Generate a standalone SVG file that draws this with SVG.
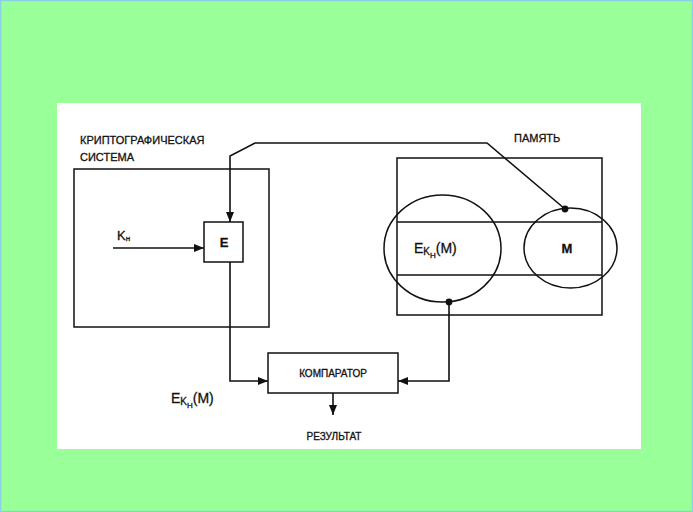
<svg xmlns="http://www.w3.org/2000/svg" width="693" height="512" viewBox="0 0 693 512">
<defs>
<style>
.box{fill:none;stroke:#111;stroke-width:1.5}
.ln{fill:none;stroke:#111;stroke-width:1.6}
.t{font-family:"Liberation Sans",Arial,sans-serif;fill:#111;stroke:#111;stroke-width:0.3}
</style>
<marker id="ah" viewBox="0 0 10 8" refX="10" refY="4" markerWidth="10" markerHeight="8" markerUnits="userSpaceOnUse" orient="auto">
<path d="M0,0 L10,4 L0,8 Z" fill="#111"/>
</marker>
</defs>
<rect x="0.5" y="0.5" width="692" height="511" fill="#99ff99" stroke="#8ccfe6" stroke-width="1.5"/>
<rect x="57" y="103" width="584" height="346" fill="#ffffff"/>

<g id="crypto-system">
<rect class="box" x="74" y="169" width="195" height="158"/>
<text class="t" x="80" y="144" font-size="11">КРИПТОГРАФИЧЕСКАЯ</text>
<text class="t" x="80" y="161" font-size="11">СИСТЕМА</text>
</g>
<g id="key-label">
<text class="t" x="117" y="240" font-size="13">K<tspan font-size="8" dy="1">н</tspan></text>
</g>
<g id="E">
<rect class="box" x="204" y="222" width="39" height="40"/>
<text class="t" x="224" y="247" font-size="13" font-weight="bold" text-anchor="middle">E</text>
</g>
<g id="memory">
<rect class="box" x="397" y="158" width="205" height="157"/>
<line class="box" x1="397" y1="222" x2="602" y2="222"/>
<line class="box" x1="397" y1="275" x2="602" y2="275"/>
<ellipse class="box" cx="442.5" cy="248.5" rx="58.5" ry="53.5"/>
<ellipse class="box" cx="570.5" cy="248" rx="46.5" ry="40"/>
<text class="t" x="514" y="142" font-size="11">ПАМЯТЬ</text>
<text class="t" x="414" y="253" font-size="14">E<tspan font-size="10" dy="2">K</tspan><tspan font-size="8" dy="3">H</tspan><tspan dy="-5">(M)</tspan></text>
<text class="t" x="567" y="253" font-size="13" font-weight="bold" text-anchor="middle">M</text>
</g>
<g id="comparator">
<rect class="box" x="268" y="353" width="130" height="40"/>
<text class="t" x="333" y="377" font-size="10" text-anchor="middle">КОМПАРАТОР</text>
</g>
<g id="result">
<text class="t" x="334" y="440" font-size="10" text-anchor="middle">РЕЗУЛЬТАТ</text>
</g>
<g id="ek-label">
<text class="t" x="171" y="403" font-size="14">E<tspan font-size="10" dy="2">K</tspan><tspan font-size="8" dy="3">H</tspan><tspan dy="-5">(M)</tspan></text>
</g>
<g id="connectors">
<line class="ln" x1="113" y1="248" x2="204" y2="248" marker-end="url(#ah)"/>
<polyline class="ln" points="565,209 487,143 255,143 230,156 230,222" marker-end="url(#ah)"/>
<polyline class="ln" points="230,262 230,381 268,381" marker-end="url(#ah)"/>
<polyline class="ln" points="449,302 449,381 398,381" marker-end="url(#ah)"/>
<line class="ln" x1="333" y1="393" x2="333" y2="415" marker-end="url(#ah)"/>
<circle cx="565" cy="209" r="3.4" fill="#111"/>
<circle cx="449" cy="302" r="3.4" fill="#111"/>
</g>
</svg>
